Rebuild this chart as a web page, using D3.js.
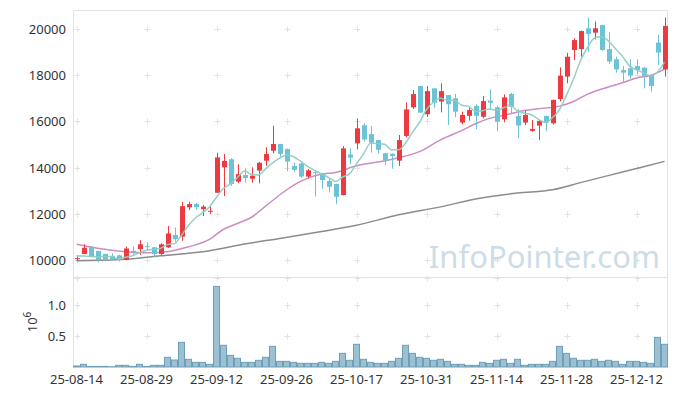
<!DOCTYPE html>
<html>
<head>
<meta charset="utf-8">
<script src="https://cdn.jsdelivr.net/npm/d3@7"></script>
<style>
  body { margin: 0; background: #fff; }
  text { font-family: "Noto Sans", "Open Sans", sans-serif; }
</style>
</head>
<body>
<svg id="mainsvg" width="677" height="396"></svg>
<script>
// daily candles, 25-08-14 .. 25-12-18
const open = [10050,10260,10580,10390,10260,10180,10200,10000,10400,10470,
  10600,10550,10260,10550,11080,11010,12280,12420,12200,12100,
  12910,14010,14360,13390,13680,13520,13870,14300,14730,15020,
  14800,14070,14180,13610,13800,13720,13420,13290,12810,14570,
  15050,15830,15450,15190,14620,14600,14300,15370,16610,17530,
  16310,17430,16860,17140,17000,15950,16240,16670,16200,16900,
  16610,16090,17190,16230,15950,15590,15820,16230,15920,16970,
  17940,19090,19130,20030,19840,20170,19130,18690,18220,18300,
  18400,18330,18010,19410,18250]
const high = [10200,10680,10600,10400,10280,10290,10230,10580,10580,10860,
  10760,10560,10720,11470,11410,12520,12520,12480,12380,12310,
  14640,14590,14400,14140,13970,14010,14240,14880,15810,15030,
  14830,14210,14200,13940,13900,13780,13530,13300,14930,14830,
  16130,15920,15800,15200,14640,14620,15410,16820,17360,17530,
  17530,17450,17650,17150,17190,16420,16610,16740,17100,17390,
  16680,17170,17240,16520,16470,16060,16040,16250,16940,18340,
  18970,19600,19930,20500,20320,20180,19860,18800,18400,18690,
  18690,18340,18020,19740,20500]
const low = [9970,10260,10120,9900,10000,10000,9930,9990,10220,10220,
  10400,10110,10220,10520,10790,10830,12160,12170,11900,11990,
  12900,12770,13200,13320,13350,13350,13320,14070,14620,14470,
  13850,13820,13560,13530,12750,13090,12920,12420,12800,14150,
  14790,15120,14650,14600,14110,13950,14070,15310,16540,16370,
  16200,16590,16390,15840,16180,15870,16030,15660,16130,16520,
  15580,15960,16350,15270,15840,15550,15190,15580,15870,16860,
  17650,18660,18800,19020,19550,19060,18490,18110,17680,17860,
  18040,17430,17290,18440,17940]
const close = [10080,10530,10140,10000,10030,10030,10030,10500,10330,10680,
  10560,10260,10680,11150,10900,12330,12420,12290,12310,12130,
  14440,14290,13290,13720,13550,13650,14210,14590,15020,14590,
  14260,13900,13610,13880,13760,13460,13170,12740,14830,14430,
  15700,15220,15080,14770,14300,14500,15190,16520,17180,16380,
  17310,16810,17310,16740,16420,16280,16490,16240,16880,16810,
  15990,17040,16640,15820,16280,15670,16020,15950,16930,17980,
  18800,19520,19910,19780,20030,19090,18590,18250,18110,17980,
  18230,17970,17530,18980,20130]
const volume = [16e3,43e3,10e3,10e3,10e3,4e3,27e3,27e3,10e3,43e3,
  10e3,27e3,27e3,156e3,113e3,398e3,124e3,75e3,75e3,43e3,
  1300e3,350e3,188e3,140e3,75e3,75e3,108e3,156e3,333e3,91e3,
  91e3,75e3,59e3,59e3,59e3,75e3,59e3,91e3,220e3,108e3,
  366e3,124e3,75e3,59e3,59e3,91e3,140e3,350e3,220e3,156e3,
  140e3,108e3,124e3,91e3,43e3,43e3,27e3,27e3,75e3,59e3,
  108e3,124e3,59e3,124e3,27e3,43e3,43e3,43e3,91e3,333e3,
  220e3,140e3,108e3,108e3,124e3,91e3,108e3,91e3,43e3,91e3,
  91e3,75e3,59e3,478e3,366e3]

// moving averages
const ma5 = [10170,10175,10150,10140,10156,10146,10046,10118,10184,10314,
  10420,10466,10502,10666,10710,11064,11496,11818,12050,12296,
  12718,13092,13292,13574,13858,13700,13684,13944,14204,14412,
  14534,14472,14276,14048,13882,13722,13576,13402,13592,13726,
  14174,14584,15052,15040,15014,14774,14768,15056,15538,15954,
  16516,16840,16998,16910,16918,16712,16648,16434,16462,16540,
  16482,16592,16672,16460,16354,16290,16086,15948,16170,16510,
  17136,17836,18628,19198,19608,19666,19480,19148,18814,18404,
  18232,18108,17964,18138,18568]
const ma20Idx = [0,3,7,10,13,16,19,21,23,25,27,30,32,35,37,40,42,44,47,49,52,55,57,59,61,64,66,69,71,73,76,78,80,82,84]
const ma20 = [10680,10510,10360,10310,10360,10570,10890,11330,11580,11850,12330,13030,13400,13720,13790,14080,14190,14290,14500,14690,15200,15600,15900,16130,16260,16470,16550,16660,16860,17180,17490,17670,17880,17990,18260]
const ma60Idx = [0,7,12,19,24,29,35,40,46,52,57,63,68,72,78,84]
const ma60 = [9970,10030,10180,10400,10690,10930,11230,11500,11960,12300,12640,12900,13040,13350,13810,14270]

const tickLabels = ['25-08-14','25-08-29','25-09-12','25-09-26','25-10-17','25-10-31','25-11-14','25-11-28','25-12-12']
const priceTicks = [10000,12000,14000,16000,18000,20000]
const volTicks = [0.5e6,1.0e6]

const upColor = '#ec3a40'
const downColor = '#6cc2d7'

const left = 73, right = 668
const priceTop = 10, priceBottom = 277, volBottom = 367

const svg = d3.select('#mainsvg')
const n = close.length

const x = d3.scaleBand().domain(d3.range(n)).range([left, right]).padding(0)
const cx = i => x(i) + x.bandwidth() / 2
const y = d3.scaleLinear().domain([9264, 20822]).range([priceBottom, priceTop])
const yv = d3.scaleLinear().domain([0, 1.4516e6]).range([volBottom, priceBottom])

const xTickIdx = d3.range(0, n, 10)

// frame
const frame = svg.append('g').attr('stroke', '#e3e3e3').attr('fill', 'none')
frame.append('path').attr('d', `M${left + 0.5},${volBottom} V${priceTop + 0.5} H${right - 0.5} V${volBottom}`)
frame.append('path').attr('d', `M${left},${priceBottom + 0.5} H${right}`)

// grid crosses
const cross = svg.append('g').attr('stroke', '#e2e2e2').attr('stroke-width', 1)
const crossYs = priceTicks.map(v => y(v)).concat(volTicks.map(v => yv(v)), [priceBottom + 0.5])
xTickIdx.forEach(i => {
  crossYs.forEach(yy => {
    const px = Math.round(cx(i)) + 0.5, py = Math.round(yy) + 0.5
    cross.append('path').attr('d', `M${px - 3},${py} H${px + 3} M${px},${py - 3} V${py + 3}`)
  })
})

// watermark
svg.append('text')
  .attr('x', 660).attr('y', 268)
  .attr('text-anchor', 'end')
  .attr('font-size', 31)
  .attr('fill', '#cddde7')
  .text('InfoPointer.com')

// volume bars
svg.append('g').selectAll('rect').data(volume).join('rect')
  .attr('x', (d, i) => x(i) + 0.5)
  .attr('y', d => yv(d))
  .attr('width', x.bandwidth() - 1)
  .attr('height', d => volBottom - yv(d))
  .attr('fill', '#9bc0d1')
  .attr('stroke', '#6e9fb7')
  .attr('stroke-width', 1)

// moving average lines
const lineSeq = d3.line().x((d, i) => cx(i)).y(d => y(d)).curve(d3.curveMonotoneX)
const linePts = d3.line().x(d => cx(d[0])).y(d => y(d[1])).curve(d3.curveMonotoneX)
svg.append('path').attr('d', linePts(ma60Idx.map((d, k) => [d, ma60[k]])))
  .attr('fill', 'none').attr('stroke', '#8c8c8c').attr('stroke-width', 1.5)
svg.append('path').attr('d', linePts(ma20Idx.map((d, k) => [d, ma20[k]])))
  .attr('fill', 'none').attr('stroke', '#cd8cc4').attr('stroke-width', 1.5)

// candles
const bodyW = 5
const candles = svg.append('g').selectAll('g').data(d3.range(n)).join('g')
candles.append('line')
  .attr('x1', i => Math.round(cx(i)) + 0.5).attr('x2', i => Math.round(cx(i)) + 0.5)
  .attr('y1', i => y(high[i])).attr('y2', i => y(low[i]))
  .attr('stroke', i => close[i] >= open[i] ? upColor : downColor)
  .attr('stroke-width', 1)
candles.append('rect')
  .attr('x', i => Math.round(cx(i)) + 0.5 - bodyW / 2)
  .attr('y', i => y(Math.max(open[i], close[i])))
  .attr('width', bodyW)
  .attr('height', i => Math.max(1, Math.abs(y(open[i]) - y(close[i]))))
  .attr('fill', i => close[i] >= open[i] ? upColor : downColor)

svg.append('path').attr('d', lineSeq(ma5))
  .attr('fill', 'none').attr('stroke', '#8fcdc0').attr('stroke-width', 1.5).attr('opacity', 0.95)

// axes labels
const labels = svg.append('g').attr('font-size', 13).attr('fill', '#333')
priceTicks.forEach(v => {
  labels.append('text').attr('x', 66).attr('y', y(v) + 5).attr('text-anchor', 'end').text(v)
})
volTicks.forEach(v => {
  labels.append('text').attr('x', 66).attr('y', yv(v) + 5).attr('text-anchor', 'end').text(d3.format('.1f')(v / 1e6))
})
const exp = labels.append('text').attr('transform', 'translate(37,322) rotate(-90)').attr('text-anchor', 'middle')
exp.append('tspan').text('10')
exp.append('tspan').attr('dy', -6).attr('font-size', 10).text('6')

xTickIdx.forEach((i, k) => {
  labels.append('text').attr('x', cx(i)).attr('y', 384).attr('text-anchor', 'middle').text(tickLabels[k])
})
</script>
</body>
</html>
